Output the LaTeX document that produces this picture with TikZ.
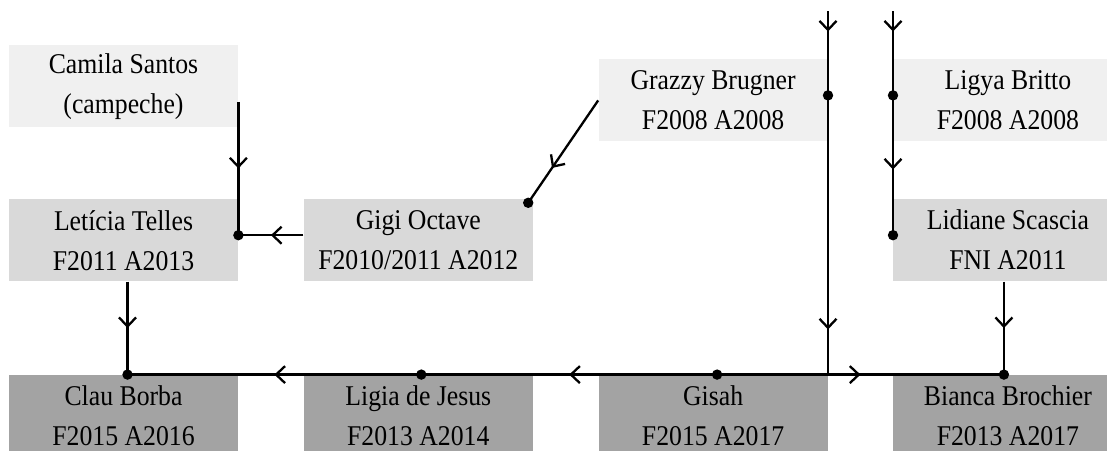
\documentclass[tikz,border=0pt]{standalone}
\usepackage{fontspec}
\setmainfont{Liberation Serif}[FakeStretch=0.9]
\usetikzlibrary{arrows.meta,positioning,calc,decorations.markings}

\begin{document}
\begin{tikzpicture}[
            font=\fontsize{14.3pt}{20pt}\selectfont,
            node distance=46.5pt and 32.5pt,
            box/.style={minimum width=114.5pt, minimum height=41pt,
            inner sep=0pt, align=center},
            lite/.style={box, fill=black!6},
            mid/.style={box, fill=black!15},
            dark/.style={box, fill=black!36},
            flow/.style={line width=1.15pt, postaction={decorate},
            decoration={markings, mark=at position #1 with
            {\arrow{Straight Barb[length=4.5pt,width=8.5pt]}}}},
            flow/.default=0.5
        ]
            \useasboundingbox (0,0) rectangle (553.5pt,225pt);
% bottom row
            \node[dark]                                 (cb)   at (61.75pt,17pt) {Clau Borba\\F2015 A2016};
            \node[dark, right=of cb]                    (lj)   {Ligia de Jesus\\F2013 A2014};
            \node[dark, right=of lj]                    (gs)   {Gisah\\F2015 A2017};
            \node[dark, right=of gs]                    (bb)   {Bianca Brochier\\F2013 A2017};
% middle row
            \node[mid, above=of cb]                     (lt)   {Letícia Telles\\F2011 A2013};
            \node[mid, right=of lt]                     (go)   {Gigi Octave\\F2010/2011 A2012};
            \node[mid, above=of bb]                     (ls)   {Lidiane Scascia\\FNI A2011};
% top row
            \node[lite, above=35.5pt of lt]             (cs)   {Camila Santos\\(campeche)};
            \node[lite, above=28.5pt of ls]             (lb)   {Ligya Britto\\F2008 A2008};
            \node[lite, left=of lb]                     (gb)   {Grazzy Brugner\\F2008 A2008};
% joints
            \coordinate (jlt) at ($(lt.east)+(0,2.5pt)$);
            \coordinate (jgo) at ($(go.north east)+(-2.5pt,-2pt)$);
            \coordinate (jgb) at ($(gb.east)+(0,2.5pt)$);
            \coordinate (jlb) at ($(lb.west)+(0,2.5pt)$);
            \coordinate (jls) at ($(ls.west)+(0,2.5pt)$);
            \coordinate (jcb) at ($(cb.north)+(2pt,0)$);
            \coordinate (jlj) at ($(lj.north)+(1.5pt,0)$);
            \coordinate (jgs) at ($(gs.north)+(2pt,0)$);
            \coordinate (jbb) at ($(bb.north)+(-2pt,0)$);
            \coordinate (csout) at ($(cs.south east)+(0,13pt)$);
            \coordinate (gbin) at ($(gb.east)+(0,44.5pt)$);
            \coordinate (lbin) at ($(lb.west)+(0,44.5pt)$);
% incoming from above
            \draw[flow=0.24] (gbin) -- (jgb);
            \draw[flow=0.24] (lbin) -- (jlb);
            \draw[flow=0.6] (jgb) |- (jgs);
            \draw[flow=0.53] (jlb) -- (jls);
% left branch
            \draw[flow] (csout) -- (jlt);
            \draw[flow] ($(go.west)+(0,2.5pt)$) -- (jlt);
            \draw[flow=0.66] (gb.west) -- (jgo);
            \draw[flow] ($(lt.south)+(2pt,0)$) -- (jcb);
% right branch
            \draw[flow] ($(ls.south)+(-2pt,0)$) -- (jbb);
% bottom line
            \draw[flow] (jgs) -- (jlj);
            \draw[flow] (jlj) -- (jcb);
            \draw[flow] (jgs) -- (jbb);
            \foreach \j in {jlt,jgo,jgb,jlb,jls,jcb,jlj,jgs,jbb}
                \fill (\j) circle (2.6pt);
        \end{tikzpicture}
\end{document}
